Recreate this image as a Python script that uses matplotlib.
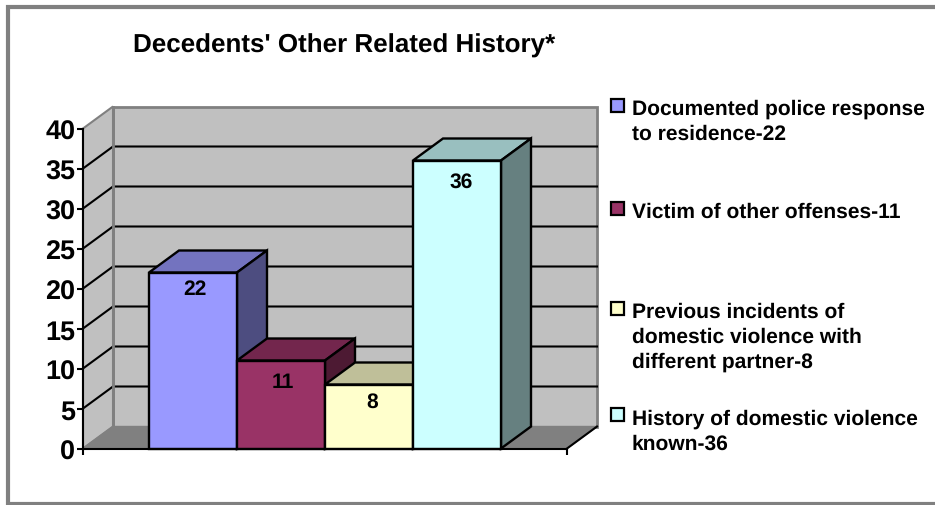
import matplotlib
matplotlib.use("Agg")
import matplotlib.pyplot as plt
from matplotlib.patches import Polygon, Rectangle
from matplotlib.transforms import Affine2D

plt.rcParams['font.family'] = ['Liberation Sans', 'DejaVu Sans']
plt.rcParams['font.weight'] = 'bold'
plt.rcParams['text.hinting'] = 'no_hinting'
plt.rcParams['text.hinting_factor'] = 1

title = "Decedents' Other Related History*"
categories = ["Documented police response\nto residence-22",
              "Victim of other offenses-11",
              "Previous incidents of\ndomestic violence with\ndifferent partner-8",
              "History of domestic violence\nknown-36"]
values = [22, 11, 8, 36]
colors = ["#9999FF", "#993366", "#FFFFCC", "#CCFFFF"]
yticks = list(range(0, 45, 5))

W, H = 935, 506
fig = plt.figure(figsize=(W / 100, H / 100), dpi=100, facecolor="white")
px = Affine2D().scale(1 / W, -1 / H).translate(0, 1) + fig.transFigure

# chart frame (runs off the right edge)
fig.add_artist(Rectangle((8, 8), 1000, 497, transform=px, fc="white",
                         ec="#808080", lw=3.0, clip_on=False, zorder=-5))

ax = fig.add_axes([83 / W, (H - 449.5) / H, 484 / W, 320 / H])
ax.patch.set_visible(False)
xmin, xmax = -1.25, 4.25
ax.set_xlim(xmin, xmax)
ax.set_ylim(0, 40)
dx, dy = 30 / 88, 22 / 8   # depth of the pseudo-3D box, in data units


def poly(pts, fc, ec="black", lw=1.7, z=2):
    ax.add_patch(Polygon(pts, closed=True, fc=fc, ec=ec, lw=lw, zorder=z,
                         clip_on=False, joinstyle="miter"))


def shade(hexcol, f):
    r, g, b = matplotlib.colors.to_rgb(hexcol)
    return (r * f, g * f, b * f)


# walls and floor
poly([(xmin + dx, dy), (xmax + dx, dy), (xmax + dx, 40 + dy), (xmin + dx, 40 + dy)],
     "#C0C0C0", ec="#808080", lw=2.0, z=1)
poly([(xmin, 0), (xmin + dx, dy), (xmin + dx, 40 + dy), (xmin, 40)],
     "#C0C0C0", ec="#808080", lw=1.5, z=1)
poly([(xmin, 0), (xmax, 0), (xmax + dx, dy), (xmin + dx, dy)],
     "#808080", ec="#808080", lw=1.0, z=1)

# gridlines
for t in yticks[1:-1]:
    ax.plot([xmin, xmin + dx, xmax + dx], [t, t + dy, t + dy], color="black",
            lw=1.5, zorder=1.5, clip_on=False, solid_joinstyle="miter")
ax.plot([xmin + dx, xmin + dx], [dy, 40 + dy], color="#808080", lw=2.0, zorder=1.6, clip_on=False)
ax.plot([xmax, xmax + dx], [0, dy], color="black", lw=1.5, zorder=1.7, clip_on=False)

# bars
label_offsets = [(2, -16), (2, -21), (3, -17), (4, -21)]
for i, (v, c) in enumerate(zip(values, colors)):
    l, r = i - 0.5, i + 0.5
    z = 2 + i * 0.1
    poly([(l, v), (r, v), (r + dx, v + dy), (l + dx, v + dy)], shade(c, 0.75), z=z)
    poly([(r, 0), (r + dx, dy), (r + dx, v + dy), (r, v)], shade(c, 0.5), z=z)
    poly([(l, 0), (r, 0), (r, v), (l, v)], c, z=z + 0.01)
    ox, oy = label_offsets[i]
    ax.annotate(str(v), (i, v), xytext=(ox * 0.72, oy * 0.72), textcoords="offset points",
                ha="center", va="center", fontsize=15, fontweight="bold",
                color="black", zorder=5)

# axes
for s in ("top", "right"):
    ax.spines[s].set_visible(False)
for s in ("left", "bottom"):
    ax.spines[s].set_linewidth(1.5)
    ax.spines[s].set_zorder(4)
ax.set_yticks(yticks)
ax.set_xticks([xmin, xmax])
ax.set_xticklabels([])
ax.tick_params(axis="both", direction="out", length=4.5, width=1.5, pad=1)
ax.tick_params(axis="y", labelsize=19.6)
for lab in ax.get_yticklabels():
    lab.set_fontweight("bold")

# title
fig.text(344.5, 46, title, transform=px, ha="center", va="center",
         fontsize=18.7, fontweight="bold", color="black")

# legend
legend_swatch_y = [106, 209.5, 309, 416]
for c, lab, y in zip(colors, categories, legend_swatch_y):
    fig.add_artist(Rectangle((610.5, y - 6.5), 13, 13, transform=px, fc=c, ec="black", lw=1.6))
    for j, line in enumerate(lab.split("\n")):
        fig.text(632, y + 8.3 + j * 25, line, transform=px, ha="left", va="baseline",
                 fontsize=15.2, fontweight="bold", color="black")

fig.savefig("out.png", dpi=100, facecolor="white")
